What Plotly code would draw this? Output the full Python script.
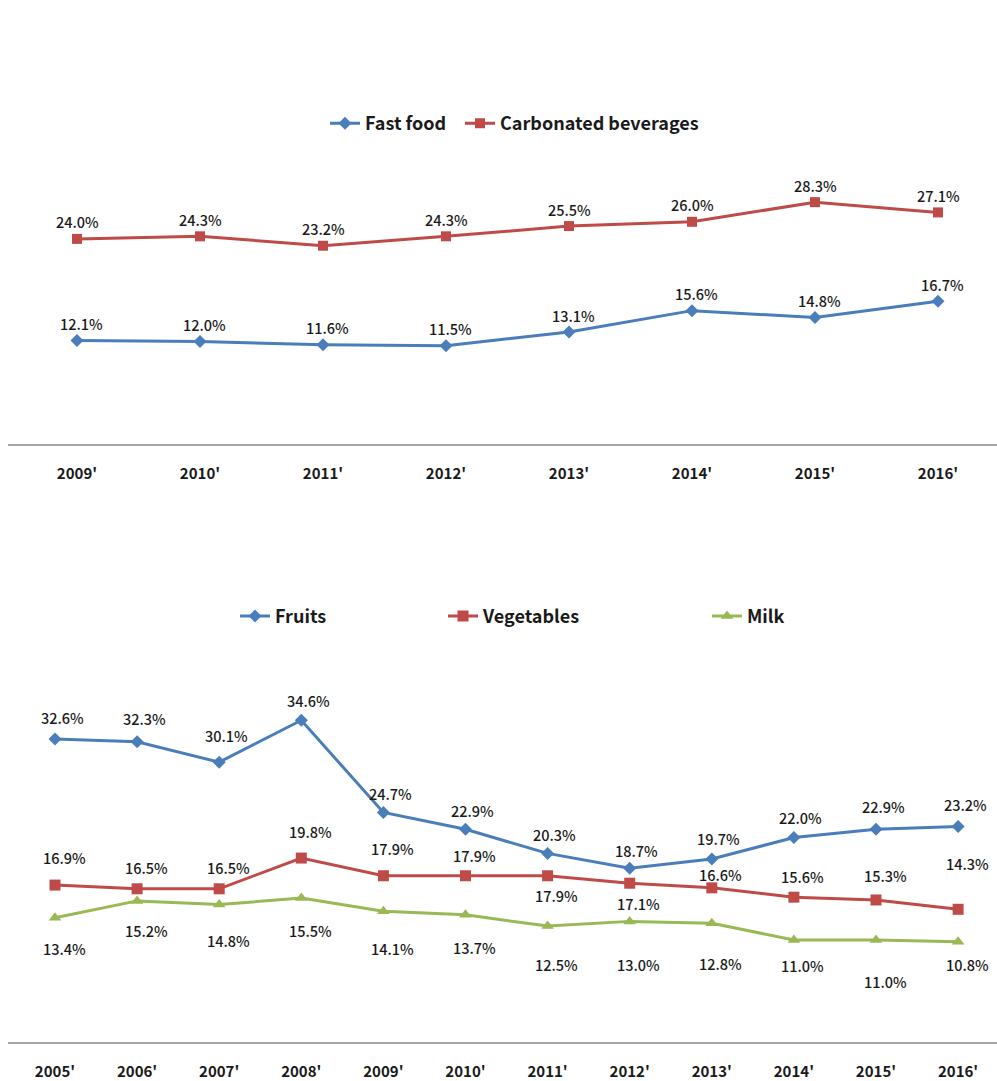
import plotly.graph_objects as go

# ---- data -------------------------------------------------------------
years_top = ["2009'", "2010'", "2011'", "2012'", "2013'", "2014'", "2015'", "2016'"]
fast_food = [12.1, 12.0, 11.6, 11.5, 13.1, 15.6, 14.8, 16.7]
carbonated = [24.0, 24.3, 23.2, 24.3, 25.5, 26.0, 28.3, 27.1]

years_bottom = ["2005'", "2006'", "2007'", "2008'", "2009'", "2010'",
                "2011'", "2012'", "2013'", "2014'", "2015'", "2016'"]
fruits = [32.6, 32.3, 30.1, 34.6, 24.7, 22.9, 20.3, 18.7, 19.7, 22.0, 22.9, 23.2]
vegetables = [16.9, 16.5, 16.5, 19.8, 17.9, 17.9, 17.9, 17.1, 16.6, 15.6, 15.3, 14.3]
milk = [13.4, 15.2, 14.8, 15.5, 14.1, 13.7, 12.5, 13.0, 12.8, 11.0, 11.0, 10.8]

# ---- styling ----------------------------------------------------------
BLUE = "#4A7EBB"
RED = "#BE4B48"
GREEN = "#98B954"
W, H = 997, 1081
LABEL_FONT = dict(family="Noto Sans CJK KR, Noto Sans, sans-serif", size=14.5, color="#1a1a1a", weight=500)
TICK_FONT = dict(family="Noto Sans CJK KR, Noto Sans, sans-serif", size=15, color="#1a1a1a", weight="bold")
LEGEND_FONT = dict(family="Noto Sans CJK KR, Noto Sans, sans-serif", size=18, color="#1a1a1a", weight="bold")

# vertical offsets (px, + is up) of the value labels
off_fast = [17] * 8
off_carb = [17] * 8
off_fruits = [21, 23, 27, 20, 19, 19, 19, 18, 20, 20, 23, 22]
off_veg = [28, 21, 21, 27, 27, 20, -20, -20, 13, 21, 24, 46]
off_milk = [-31, -30, -36, -32, -37, -33, -38, -43, -40, -25, -41, -23]

fig = go.Figure()

series = [
    # name, x labels, values, colour, symbol, size, xaxis, yaxis, legend, offsets, xshift
    ("Fast food", years_top, fast_food, BLUE, "diamond", 10, "x", "y", "legend", off_fast, 4),
    ("Carbonated beverages", years_top, carbonated, RED, "square", 10, "x", "y", "legend2", off_carb, 0),
    ("Fruits", years_bottom, fruits, BLUE, "diamond", 10, "x2", "y2", "legend3", off_fruits, 7),
    ("Vegetables", years_bottom, vegetables, RED, "square", 11, "x2", "y2", "legend4", off_veg, 9),
    ("Milk", years_bottom, milk, GREEN, "triangle-up", 11, "x2", "y2", "legend5", off_milk, 9),
]

annotations = []
for name, cats, vals, col, sym, size, xa, ya, leg, offs, xs in series:
    idx = list(range(len(cats)))
    fig.add_trace(go.Scatter(
        x=idx, y=vals, name=name, mode="lines+markers",
        line=dict(color=col, width=3),
        marker=dict(symbol=sym, size=size, color=col),
        xaxis=xa, yaxis=ya, legend=leg, showlegend=True, cliponaxis=False,
    ))
    for i, v in enumerate(vals):
        annotations.append(dict(
            x=i, y=v, xref=xa, yref=ya, text=f"{v:.1f}%", showarrow=False,
            font=LABEL_FONT, yanchor="middle", xanchor="center",
            yshift=offs[i], xshift=xs,
        ))

axis_common = dict(
    showgrid=False, zeroline=False, showline=True, linecolor="#a6a6a6", linewidth=2,
    ticks="outside", ticklen=15, tickcolor="rgba(0,0,0,0)", tickfont=TICK_FONT,
)

fig.update_layout(
    width=W, height=H,
    margin=dict(l=0, r=0, t=0, b=0),
    paper_bgcolor="white", plot_bgcolor="white",
    showlegend=True,
    annotations=annotations,
    xaxis=dict(domain=[8 / W, 1], range=[(8 - 77) / 123, (997 - 77) / 123],
               tickvals=list(range(len(years_top))), ticktext=years_top, anchor="y", **axis_common),
    yaxis=dict(domain=[0.5882, 0.9052], range=[0, 40], visible=False, anchor="x"),
    xaxis2=dict(domain=[8 / W, 1], range=[(8 - 55) / 82.1, (997 - 55) / 82.1],
                tickvals=list(range(len(years_bottom))), ticktext=years_bottom, anchor="y2", **axis_common),
    yaxis2=dict(domain=[0.0330, 0.3785], range=[0, 40], visible=False, anchor="x2"),
)

legend_style = dict(font=LEGEND_FONT, itemwidth=30, bgcolor="rgba(0,0,0,0)",
                    xanchor="left", yanchor="middle", orientation="h", visible=True)
fig.update_layout(
    legend=dict(x=(365 - 40) / W, y=1 - 124 / H, **legend_style),
    legend2=dict(x=(500 - 40) / W, y=1 - 124 / H, **legend_style),
    legend3=dict(x=(275 - 40) / W, y=1 - 618 / H, **legend_style),
    legend4=dict(x=(483 - 40) / W, y=1 - 618 / H, **legend_style),
    legend5=dict(x=(747 - 40) / W, y=1 - 618 / H, **legend_style),
)

fig.write_html("out.html")
